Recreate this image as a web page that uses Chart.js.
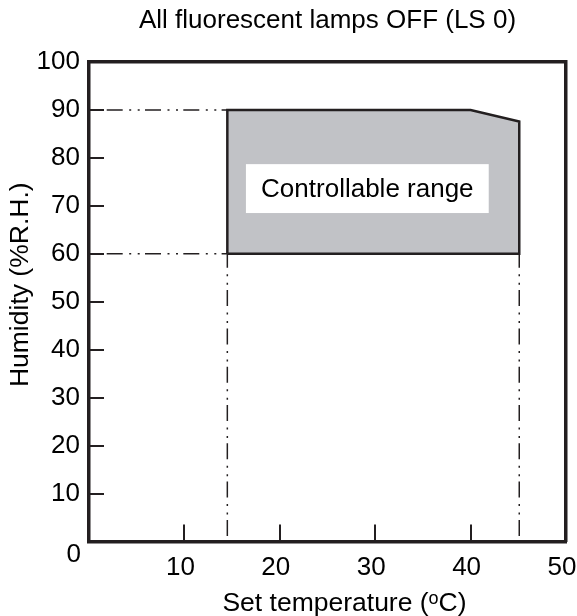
<!DOCTYPE html>
<html>
<head>
<meta charset="utf-8">
<script src="https://cdn.jsdelivr.net/npm/chart.js@4.4.1/dist/chart.umd.min.js"></script>
<style>
  html, body { margin: 0; padding: 0; background: #fff; }
  #wrap { width: 577px; height: 616px; position: relative; }
</style>
</head>
<body>
<div id="wrap"><canvas id="humidityChart"></canvas></div>
<script>
// --- data ---
var rangeTemp = [14.5, 14.5, 40, 45.1, 45.1, 14.5];   // outline of controllable area
var rangeHum  = [60, 90, 90, 87.6, 60, 60];
var guideTop    = {x: [0, 14.5], y: [90, 90]};
var guideBottom = {x: [0, 14.5], y: [60, 60]};
var guideLeft   = {x: [14.5, 14.5], y: [60, 0]};
var guideRight  = {x: [45.1, 45.1], y: [60, 0]};
var xTickValues = [10, 20, 30, 40, 50];
var yTickValues = [10, 20, 30, 40, 50, 60, 70, 80, 90, 100];

var ink = '#231f20';
var fontFam = '"Liberation Sans", Arial, Helvetica, sans-serif';
var dashDot = [16, 6.5, 2, 6.5, 2, 5.3];

function pts(xs, ys) {
  return xs.map(function (x, i) { return {x: x, y: ys[i]}; });
}
function guide(g, offset) {
  return {
    data: pts(g.x, g.y),
    showLine: true,
    borderColor: ink,
    borderWidth: 1.5,
    borderDash: dashDot,
    borderDashOffset: offset,
    pointRadius: 0,
    fill: false
  };
}
function noPad(s) {
  s.paddingLeft = 0; s.paddingRight = 0; s.paddingTop = 0; s.paddingBottom = 0;
}

// label box position (data units)
var boxArea = {x0: 16.45, x1: 41.9, y0: 68.5, y1: 78.7};

var extras = {
  id: 'extras',
  afterDraw: function (chart) {
    var c = chart.ctx, a = chart.chartArea;
    var xs = chart.scales.x, ys = chart.scales.y;
    c.save();
    // inward tick marks
    c.strokeStyle = ink;
    c.lineWidth = 2;
    xTickValues.forEach(function (v) {
      if (v >= xs.max) return;
      var px = Math.round(xs.getPixelForValue(v));
      c.beginPath(); c.moveTo(px, a.bottom); c.lineTo(px, a.bottom - 17); c.stroke();
    });
    yTickValues.forEach(function (v) {
      if (v >= ys.max) return;
      var py = Math.round(ys.getPixelForValue(v));
      c.beginPath(); c.moveTo(a.left, py); c.lineTo(a.left + 15, py); c.stroke();
    });
    // white label box
    var bx0 = xs.getPixelForValue(boxArea.x0), bx1 = xs.getPixelForValue(boxArea.x1);
    var by0 = ys.getPixelForValue(boxArea.y1), by1 = ys.getPixelForValue(boxArea.y0);
    c.fillStyle = '#fff';
    c.fillRect(bx0, by0, bx1 - bx0, by1 - by0);
    c.fillStyle = '#000';
    c.font = '26px ' + fontFam;
    c.textAlign = 'center';
    c.textBaseline = 'middle';
    c.fillText('Controllable range', (bx0 + bx1) / 2, (by0 + by1) / 2 + 1);
    // shared origin label
    c.textAlign = 'right';
    c.fillText('0', a.left - 8, ys.getPixelForValue(0) + 13);
    // axis titles
    c.font = '26.5px ' + fontFam;
    c.textAlign = 'center';
    c.textBaseline = 'alphabetic';
    c.fillText('Set temperature (\u1D52C)', (a.left + a.right) / 2 + 17, 611);
    c.translate(20.5, (a.top + a.bottom) / 2 - 17);
    c.rotate(-Math.PI / 2);
    c.textBaseline = 'middle';
    c.fillText('Humidity (%R.H.)', 0, 0);
    c.restore();
  }
};

var frame = {display: true, width: 3.5, color: ink};

var ctx = document.getElementById('humidityChart').getContext('2d');
var humChart = new Chart(ctx, {
  type: 'scatter',
  data: {
    datasets: [
      {
        data: pts(rangeTemp, rangeHum),
        showLine: true,
        borderColor: ink,
        borderWidth: 2.5,
        backgroundColor: '#c1c2c6',
        fill: 'shape',
        pointRadius: 0,
        borderJoinStyle: 'miter'
      },
      guide(guideTop, 20.6),
      guide(guideBottom, 20.6),
      guide(guideLeft, 2),
      guide(guideRight, 2)
    ]
  },
  options: {
    responsive: true,
    maintainAspectRatio: false,
    animation: false,
    events: [],
    layout: {padding: 0},
    plugins: {
      legend: {display: false},
      tooltip: {enabled: false},
      title: {
        display: true,
        fullSize: false,
        text: 'All fluorescent lamps OFF (LS 0)',
        color: '#000',
        font: {family: fontFam, size: 26, weight: 'normal'},
        padding: {top: 5, bottom: 0}
      }
    },
    scales: {
      x: {
        type: 'linear', position: 'bottom', min: 0, max: 50,
        afterBuildTicks: function (s) { s.ticks = xTickValues.map(function (v) { return {value: v}; }); },
        afterFit: function (s) { s.height = 74.5; noPad(s); },
        grid: {display: false, drawTicks: false},
        border: frame,
        ticks: {color: '#000', font: {family: fontFam, size: 26}, padding: 11, labelOffset: -4, maxRotation: 0, autoSkip: false}
      },
      y: {
        type: 'linear', position: 'left', min: 0, max: 100,
        afterBuildTicks: function (s) { s.ticks = yTickValues.map(function (v) { return {value: v}; }); },
        afterFit: function (s) { s.width = 89; noPad(s); },
        grid: {display: false, drawTicks: false},
        border: frame,
        ticks: {color: '#000', font: {family: fontFam, size: 26}, padding: 9, autoSkip: false}
      },
      xTop: {
        type: 'linear', position: 'top', min: 0, max: 50,
        afterFit: function (s) { s.height = 25.8; noPad(s); },
        grid: {display: false, drawTicks: false},
        border: frame,
        ticks: {display: false}
      },
      yRight: {
        type: 'linear', position: 'right', min: 0, max: 100,
        afterFit: function (s) { s.width = 11; noPad(s); },
        grid: {display: false, drawTicks: false},
        border: frame,
        ticks: {display: false}
      }
    }
  },
  plugins: [extras]
});
</script>
</body>
</html>
